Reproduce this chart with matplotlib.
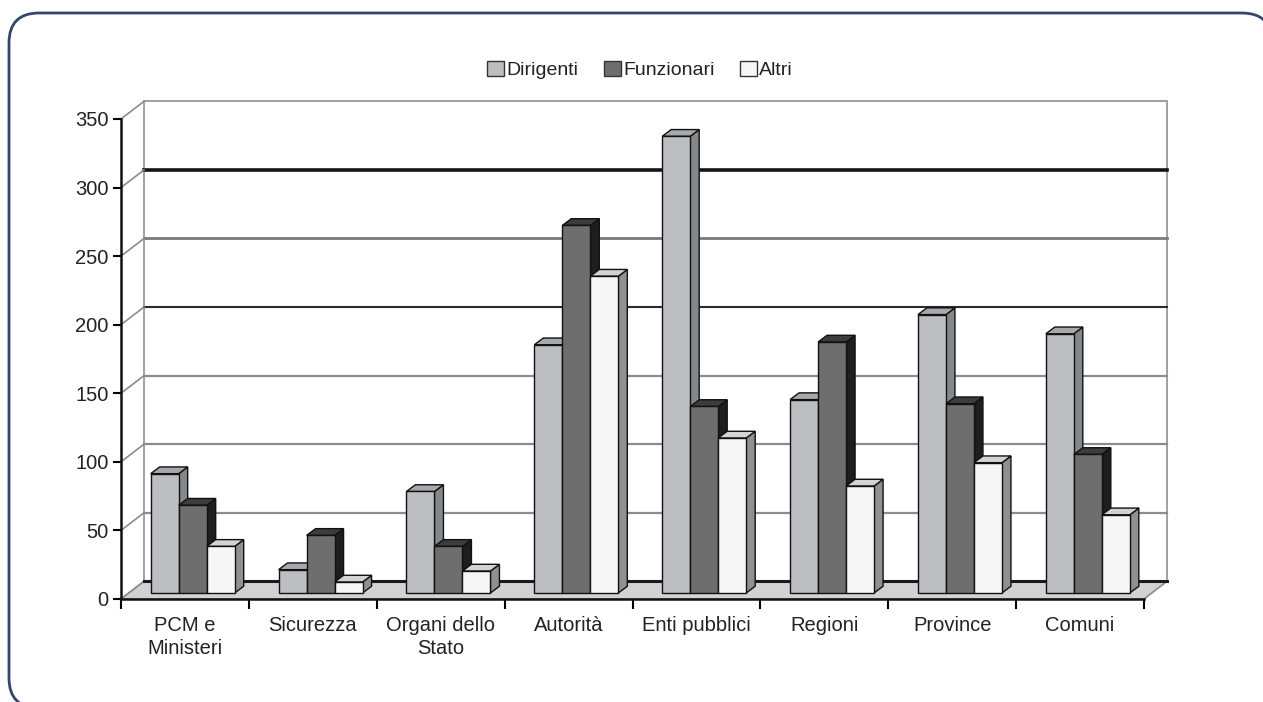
import numpy as np
import matplotlib.pyplot as plt
from matplotlib.patches import Polygon, Rectangle, PathPatch, Patch
from matplotlib.path import Path

categorie = ["PCM e\nMinisteri", "Sicurezza", "Organi dello\nStato", "Autorità",
             "Enti pubblici", "Regioni", "Province", "Comuni"]
serie = ["Dirigenti", "Funzionari", "Altri"]
dirigenti = [87, 17, 74, 181, 333, 141, 203, 189]
funzionari = [64, 42, 34, 268, 136, 183, 138, 101]
altri = [34, 8, 16, 231, 113, 78, 95, 57]
yticks = [0, 50, 100, 150, 200, 250, 300, 350]

plt.rcParams['font.family'] = ['Liberation Sans', 'DejaVu Sans']

W, H = 1263, 702
fig = plt.figure(figsize=(W / 100, H / 100), dpi=100)

# rounded frame around the chart, drawn on a pixel-sized background axes
bg = fig.add_axes([0, 0, 1, 1])
bg.set_xlim(0, W)
bg.set_ylim(0, H)
bg.axis('off')
r, x0, x1, y0, y1 = 30, 9, 1272, -6, 689
frame = Path([(x1, y1 - r), (x1, y1), (x1 - r, y1),
              (x0 + r, y1), (x0, y1), (x0, y1 - r),
              (x0, y0 + r), (x0, y0), (x0 + r, y0),
              (x1 - r, y0)],
             [Path.MOVETO, Path.CURVE3, Path.CURVE3,
              Path.LINETO, Path.CURVE3, Path.CURVE3,
              Path.LINETO, Path.CURVE3, Path.CURVE3,
              Path.LINETO])
bg.add_patch(PathPatch(frame, facecolor='none', edgecolor='#34466a', lw=2.0))

ax = fig.add_axes([121 / W, 1 - 599 / H, (1144 - 121) / W, 480 / H])
n = len(categorie)
ax.set_xlim(0, n)
ax.set_ylim(0, 350)
ax.patch.set_visible(False)

# depth of the box (walls/floor) and of each bar, in data units
wx, wy = 0.18, 12.9
bx, by = 0.061, 4.4
dx, dy = 0.07, 4.9
w = 0.219
gap = (1 - 3 * w) / 2

# back wall + gridlines
ax.add_patch(Rectangle((wx, wy), n, 350, facecolor='white', edgecolor='#9a9a9a',
                       lw=1.3, clip_on=False, zorder=0))
grid_style = {50: ('#8c8c8c', 1.6), 100: ('#8c8c8c', 1.6), 150: ('#8c8c8c', 1.6),
              200: ('#2a2a2a', 1.5), 250: ('#7a7a7a', 2.0), 300: ('#151515', 2.6),
              350: ('#a0a0a0', 1.4)}
for v in yticks[1:]:
    c, lw = grid_style[v]
    ax.plot([wx, n + wx], [v + wy, v + wy], color=c, lw=lw, clip_on=False, zorder=0.5)
for v in yticks:
    ax.plot([0, wx], [v, v + wy], color='#8c8c8c', lw=1.2, clip_on=False, zorder=0.5)

# floor
ax.add_patch(Polygon([(0, 0), (n, 0), (n + wx, wy), (wx, wy)], closed=True,
                     facecolor='#d2d2d2', edgecolor='#8a8a8a', lw=1.2,
                     clip_on=False, zorder=1))
ax.plot([wx, n + wx], [wy, wy], color='#1a1a1a', lw=2.2, clip_on=False, zorder=1.5)

colori = [('#bcbec1', '#85888b', '#a7a9ac'),
          ('#6e6e6e', '#1e1e1e', '#3c3c3c'),
          ('#f6f6f6', '#8f9093', '#d3d3d3')]

x = np.arange(n)
for i, (vals, (front, side, top)) in enumerate(zip([dirigenti, funzionari, altri], colori)):
    left = x + gap + i * w + bx
    ax.bar(left, vals, width=w, bottom=by, align='edge', color=front,
           edgecolor='#111111', lw=1.0, zorder=4 + 2 * i)
    for xa, h in zip(left, vals):
        xb = xa + w
        t = by + h
        ax.add_patch(Polygon([(xb, by), (xb + dx, by + dy), (xb + dx, t + dy), (xb, t)],
                             closed=True, facecolor=side, edgecolor='#111111', lw=1.0,
                             zorder=3 + 2 * i, clip_on=False))
        ax.add_patch(Polygon([(xa, t), (xa + dx, t + dy), (xb + dx, t + dy), (xb, t)],
                             closed=True, facecolor=top, edgecolor='#111111', lw=1.0,
                             zorder=3 + 2 * i, clip_on=False))

# axes
for s in ['top', 'right']:
    ax.spines[s].set_visible(False)
for s in ['left', 'bottom']:
    ax.spines[s].set_linewidth(1.8)
    ax.spines[s].set_color('#111111')
    ax.spines[s].set_zorder(20)
ax.set_yticks(yticks)
ax.tick_params(axis='y', length=6, width=1.5, pad=3, labelsize=14.5, labelcolor='#222222')
ax.set_xticks(np.arange(n + 1))
ax.set_xticklabels([])
ax.tick_params(axis='x', which='major', length=7, width=1.5)
ax.set_xticks(x + 0.5, minor=True)
ax.set_xticklabels(categorie, minor=True, fontsize=14.5, color='#222222')
ax.tick_params(axis='x', which='minor', length=0, pad=12)
for lab in ax.get_xticklabels(minor=True):
    lab.set_linespacing(1.3)

handles = [Patch(facecolor=c[0], edgecolor='#333333', lw=1.0) for c in colori]
fig.legend(handles, serie, loc='center', bbox_to_anchor=(640 / W, 1 - 70 / H),
           ncol=3, frameon=False, fontsize=14, handlelength=0.9, handleheight=0.8,
           handletextpad=0.1, columnspacing=1.3, labelcolor='#222222')

fig.savefig('out.png', dpi=100)
